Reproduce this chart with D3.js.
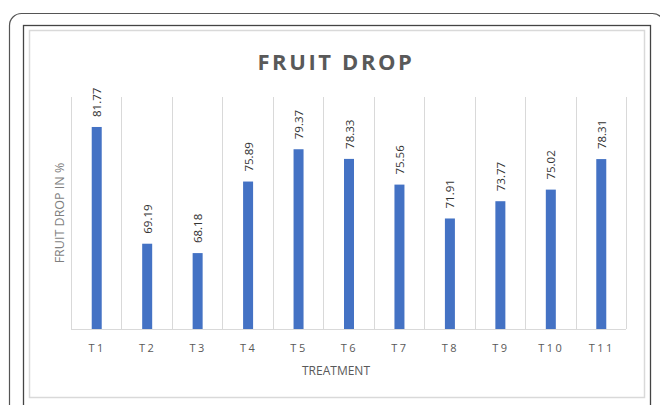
<!DOCTYPE html>
<html>
<head>
<meta charset="utf-8">
<script src="https://cdn.jsdelivr.net/npm/d3@7"></script>
<style>
  body { margin: 0; background: #fff; }
  svg { display: block; }
</style>
</head>
<body>
<script>
var treatments = ["T1", "T2", "T3", "T4", "T5", "T6", "T7", "T8", "T9", "T10", "T11"];
var fruitDrop = [81.77, 69.19, 68.18, 75.89, 79.37, 78.33, 75.56, 71.91, 73.77, 75.02, 78.31];
var yDomain = [60, 85];

var width = 660, height = 405;
var font = "'Open Sans', 'Noto Sans', sans-serif";

var svg = d3.select("body").append("svg")
    .attr("width", width)
    .attr("height", height);

// frames round the chart
svg.append("rect")
    .attr("x", 9.5).attr("y", 13.5)
    .attr("width", 655).attr("height", 420)
    .attr("rx", 12)
    .attr("fill", "none").attr("stroke", "#555").attr("stroke-width", 1.2);

svg.append("rect")
    .attr("x", 23.5).attr("y", 25.5)
    .attr("width", 627).attr("height", 400)
    .attr("fill", "none").attr("stroke", "#444").attr("stroke-width", 1.3);

svg.append("rect")
    .attr("x", 29.5).attr("y", 30.5)
    .attr("width", 615).attr("height", 367)
    .attr("fill", "#fff").attr("stroke", "#d9d9d9").attr("stroke-width", 1.5);

var x = d3.scaleBand()
    .domain(treatments)
    .range([71, 626])
    .paddingInner(0).paddingOuter(0);

var y = d3.scaleLinear()
    .domain(yDomain)
    .range([329, 97]);

var data = treatments.map(function(t, i) { return { t: t, v: fruitDrop[i] }; });

// vertical gridlines at category edges
var edges = treatments.map(function(t) { return x(t); }).concat([x.range()[1]]);
svg.append("g").selectAll("line")
    .data(edges)
    .enter().append("line")
    .attr("x1", function(d) { return Math.round(d) + 0.5; })
    .attr("x2", function(d) { return Math.round(d) + 0.5; })
    .attr("y1", y(yDomain[1]))
    .attr("y2", y(yDomain[0]))
    .attr("stroke", "#d9d9d9").attr("stroke-width", 1);

// baseline
svg.append("line")
    .attr("x1", x.range()[0]).attr("x2", x.range()[1])
    .attr("y1", y(yDomain[0]) + 0.5).attr("y2", y(yDomain[0]) + 0.5)
    .attr("stroke", "#d9d9d9").attr("stroke-width", 1.2);

var barW = 10;
svg.append("g").selectAll("rect")
    .data(data)
    .enter().append("rect")
    .attr("x", function(d) { return x(d.t) + x.bandwidth() / 2 - barW / 2 + 0.5; })
    .attr("y", function(d) { return y(d.v); })
    .attr("width", barW)
    .attr("height", function(d) { return y(yDomain[0]) - y(d.v); })
    .attr("fill", "#4472c4");

// value labels, rotated
svg.append("g").selectAll("text")
    .data(data)
    .enter().append("text")
    .attr("transform", function(d) {
        return "translate(" + (x(d.t) + x.bandwidth() / 2 + 5) + "," + (y(d.v) - 10) + ") rotate(-90)";
    })
    .attr("font-family", font)
    .attr("font-size", 11.5)
    .attr("fill", "#333")
    .text(function(d) { return d.v.toFixed(2); });

// x tick labels
svg.append("g").selectAll("text")
    .data(treatments)
    .enter().append("text")
    .attr("x", function(d) { return x(d) + x.bandwidth() / 2 + 1; })
    .attr("y", 352)
    .attr("text-anchor", "middle")
    .attr("font-family", font)
    .attr("font-size", 11)
    .attr("letter-spacing", 2.5)
    .attr("fill", "#595959")
    .text(function(d) { return d; });

// axis titles
svg.append("text")
    .attr("x", 336).attr("y", 375)
    .attr("text-anchor", "middle")
    .attr("font-family", font)
    .attr("font-size", 12)
    .attr("fill", "#595959")
    .text("TREATMENT");

svg.append("text")
    .attr("transform", "translate(64,213) rotate(-90)")
    .attr("text-anchor", "middle")
    .attr("font-family", font)
    .attr("font-size", 12.5)
    .attr("fill", "#7f7f7f")
    .text("FRUIT DROP IN %");

// title
svg.append("text")
    .attr("x", 336).attr("y", 70)
    .attr("text-anchor", "middle")
    .attr("font-family", font)
    .attr("font-size", 22)
    .attr("font-weight", "bold")
    .attr("letter-spacing", 2.6)
    .attr("fill", "#595959")
    .text("FRUIT DROP");
</script>
</body>
</html>
